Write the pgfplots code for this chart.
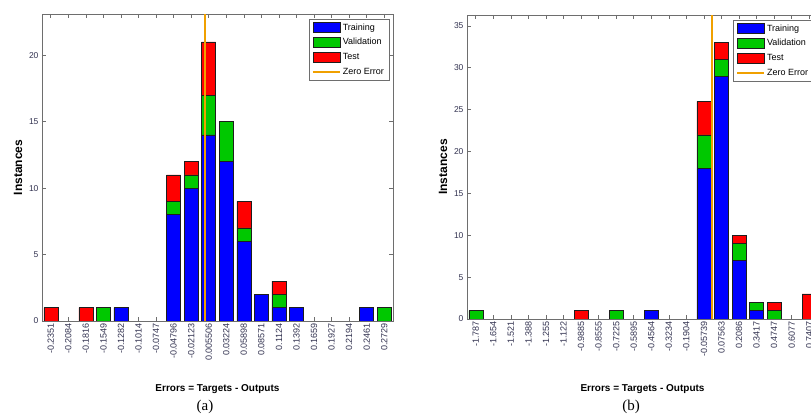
\documentclass[border=0pt]{standalone}
\usepackage{fontspec}
\setmainfont{Liberation Sans}
\newfontfamily\capfont{Liberation Serif}
\usepackage{pgfplots}
\usepackage{pgfplotstable}
\pgfplotsset{compat=1.18}
\definecolor{tblue}{RGB}{0,0,255}
\definecolor{tgreen}{RGB}{0,200,0}
\definecolor{tred}{RGB}{255,0,0}
\definecolor{zcol}{RGB}{240,160,0}
\definecolor{axgray}{RGB}{110,110,110}
\definecolor{ticktext}{RGB}{50,50,80}
\definecolor{barline}{RGB}{30,30,30}

\pgfplotstableread{
bin train val test
1 0 0 1
2 0 0 0
3 0 0 1
4 0 1 0
5 1 0 0
6 0 0 0
7 0 0 0
8 8 1 2
9 10 1 1
10 14 3 4
11 12 3 0
12 6 1 2
13 2 0 0
14 1 1 1
15 1 0 0
16 0 0 0
17 0 0 0
18 0 0 0
19 1 0 0
20 0 1 0
}\dataA

\pgfplotstableread{
bin train val test
1 0 1 0
2 0 0 0
3 0 0 0
4 0 0 0
5 0 0 0
6 0 0 0
7 0 0 1
8 0 0 0
9 0 1 0
10 0 0 0
11 1 0 0
12 0 0 0
13 0 0 0
14 18 4 4
15 29 2 2
16 7 2 1
17 1 1 0
18 0 1 1
19 0 0 0
20 0 0 3
}\dataB

\pgfplotsset{
 histbase/.style={
  scale only axis, width=351pt, xmin=0.5, xmax=20.5, ymin=0, anchor=south west,
 },
 histo/.style={
  histbase,
  ybar stacked, bar width=0.8, stacked ignores zero,
  xtick={1,...,20},
  tick align=inside, major tick length=4pt,
  axis line style={draw=axgray, line width=0.6pt},
  every tick/.style={draw=axgray, line width=0.6pt},
  xticklabel style={rotate=90, anchor=east, font=\fontsize{9}{10}\selectfont, text=ticktext, inner sep=2pt},
  yticklabel style={font=\fontsize{8.5}{10}\selectfont, text=ticktext},
  /pgf/number format/assume math mode=true,
  xlabel={Errors = Targets - Outputs},
  ylabel={Instances},
  xlabel style={font=\bfseries\fontsize{10}{12}\selectfont, anchor=center},
  ylabel style={font=\bfseries\fontsize{12}{14}\selectfont, anchor=center},
  legend cell align=left,
  legend style={draw=axgray, fill=white, font=\fontsize{9}{10}\selectfont, row sep=1.7pt, inner xsep=3pt, inner ysep=2pt, nodes={inner sep=2pt, text height=7pt, text depth=2pt}},
 },
 barleg/.style={legend image code/.code={\draw[##1,draw=barline] (0pt,-5pt) rectangle (27pt,5pt);}},
 zeroleg/.style={legend image code/.code={\draw[##1] (0pt,0pt) -- (27pt,0pt);}},
}

\begin{document}
\begin{tikzpicture}
\path[use as bounding box] (0pt,0pt) rectangle (811pt,414pt);
\clip (0pt,0pt) rectangle (811pt,414pt);

% ---------- (a) ----------
\begin{axis}[histo, height=307pt, at={(42pt,93pt)}, ymax=23.1,
  ytick={0,5,10,15,20},
  xticklabels={-0.2351,-0.2084,-0.1816,-0.1549,-0.1282,-0.1014,-0.0747,-0.04796,-0.02123,0.005506,0.03224,0.05898,0.08571,0.1124,0.1392,0.1659,0.1927,0.2194,0.2461,0.2729},
  xlabel style={at={(axis description cs:0.5,-0.2215)}},
  ylabel style={at={(axis description cs:-0.0684,0.5)}},
  legend style={at={(axis description cs:0.9886,0.9837)}, anchor=north east},
]
\addplot[fill=tblue, draw=barline, line width=0.5pt, barleg] table[x=bin,y=train]{\dataA};
\addplot[fill=tgreen, draw=barline, line width=0.5pt, barleg] table[x=bin,y=val]{\dataA};
\addplot[fill=tred, draw=barline, line width=0.5pt, barleg] table[x=bin,y=test]{\dataA};
\addlegendimage{zeroleg, draw=zcol, line width=1.8pt}
\legend{Training,Validation,Test,Zero Error}
\end{axis}
\begin{axis}[histbase, height=307pt, at={(42pt,93pt)}, ymax=23.1, hide axis]
\addplot[draw=zcol, line width=1.8pt] coordinates {(9.77,0) (9.77,23.1)};
\end{axis}

% ---------- (b) ----------
\begin{axis}[histo, height=304pt, at={(467pt,95pt)}, ymax=36.3,
  ytick={0,5,10,15,20,25,30,35},
  xticklabels={-1.787,-1.654,-1.521,-1.388,-1.255,-1.122,-0.9885,-0.8555,-0.7225,-0.5895,-0.4564,-0.3234,-0.1904,-0.05739,0.07563,0.2086,0.3417,0.4747,0.6077,0.7407},
  xlabel style={at={(axis description cs:0.5,-0.230)}},
  ylabel style={at={(axis description cs:-0.0684,0.5)}},
  legend style={at={(axis description cs:0.758,0.9836)}, anchor=north west},
]
\addplot[fill=tblue, draw=barline, line width=0.5pt, barleg] table[x=bin,y=train]{\dataB};
\addplot[fill=tgreen, draw=barline, line width=0.5pt, barleg] table[x=bin,y=val]{\dataB};
\addplot[fill=tred, draw=barline, line width=0.5pt, barleg] table[x=bin,y=test]{\dataB};
\addlegendimage{zeroleg, draw=zcol, line width=1.8pt}
\legend{Training,Validation,Test,Zero Error}
\end{axis}
\begin{axis}[histbase, height=304pt, at={(467pt,95pt)}, ymax=36.3, hide axis]
\addplot[draw=zcol, line width=1.8pt] coordinates {(14.47,0) (14.47,36.3)};
\end{axis}

\node[font=\capfont\fontsize{15}{16}\selectfont, anchor=base] at (205pt,3pt) {(a)};
\node[font=\capfont\fontsize{15}{16}\selectfont, anchor=base] at (631pt,3pt) {(b)};
\end{tikzpicture}
\end{document}
